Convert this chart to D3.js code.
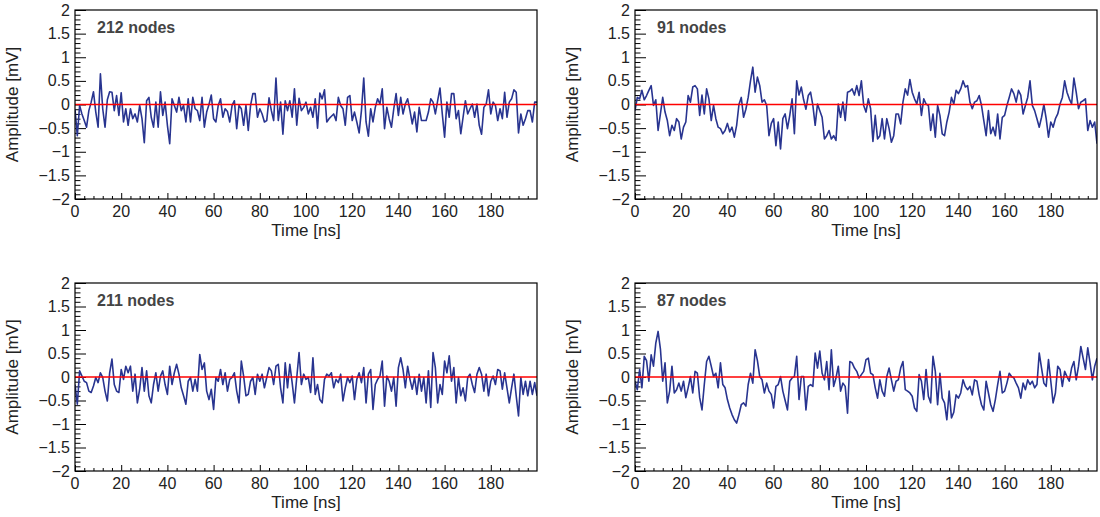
<!DOCTYPE html>
<html>
<head>
<meta charset="utf-8">
<script src="https://cdn.jsdelivr.net/npm/d3@7"></script>
<style>
  body { margin: 0; background: #fff; }
  svg { display: block; font-family: "Liberation Sans", Arial, sans-serif; }
</style>
</head>
<body>
<div class="canvas"></div>
<script>
// sample grid, 1 ns steps
const times = d3.range(0, 201)

const amp212 = [
  -0.1, -0.66, -0.02, -0.2, -0.34, -0.48, -0.13, 0.05, 0.27, -0.16,
  -0.48, 0.65, -0.09, -0.48, 0.1, 0.27, 0.26, -0.13, 0.19, -0.23,
  0.25, -0.37, -0.09, -0.44, -0.09, -0.30, -0.2, -0.37, -0.02, -0.30,
  -0.81, 0.08, 0.15, -0.27, -0.48, 0.05, -0.48, 0.27, -0.23, 0.05,
  -0.44, -0.83, 0.12, -0.02, -0.16, 0.15, -0.13, -0.02, -0.37, 0.12,
  -0.37, 0.15, -0.09, -0.13, -0.34, 0.15, -0.48, -0.16, 0.0, 0.20,
  -0.30, -0.37, -0.02, 0.12, -0.27, -0.09, -0.15,
  -0.37, -0.02, 0.08,
  -0.51, -0.02, -0.09, -0.44, -0.02, -0.55, -0.02, 0.23, 0.23, -0.27,
  -0.09, -0.2, -0.37, -0.34, 0.14, -0.13, -0.34, 0.56, -0.34, 0.05,
  -0.63, 0.08, -0.13, 0.08, -0.27, 0.33, -0.44, 0.13, -0.13, -0.06,
  0.05, -0.2, -0.06, -0.27, 0.12, -0.50, 0.24, 0.12, 0.31, -0.37,
  -0.30, -0.25, -0.2, -0.34, 0.15, -0.02, -0.09, -0.44, 0.15, 0.19,
  -0.34, -0.16, -0.37, -0.60, -0.13, 0.56, -0.37, -0.67, -0.09, -0.37,
  -0.06, 0.12, 0.01, 0.33, -0.51,
  -0.06, -0.3, -0.48, -0.09, 0.23, -0.23, 0.15, -0.2, 0.01, 0.12,
  -0.13, -0.41, -0.16, -0.58, -0.06, -0.34, -0.34, -0.34, -0.16, 0.12,
  0.05, -0.2, 0.08, 0.35, -0.2, -0.69, 0.05, -0.27, 0.23, 0.23,
  -0.3, -0.13, -0.62, -0.27, 0.08, -0.2, -0.09, 0.01, -0.27, 0.01,
  -0.44, -0.63, -0.06, 0.01, 0.31, -0.2, 0.05, -0.02, -0.34, -0.09,
  -0.3, 0.26, -0.27, 0.05, 0.12, 0.31, 0.26, -0.6, -0.2, -0.44,
  -0.3, -0.13, -0.13, -0.37, 0.05, 0.05
]

const amp91 = [
  -0.13, 0.15, 0.12, 0.3, 0.1, 0.19, 0.3, 0.4, -0.02, 0.1,
  -0.55, -0.2, 0.15, -0.16, -0.34, -0.66, -0.44, -0.55, -0.3, -0.37,
  -0.73, -0.48, -0.37, 0.19, 0.05, 0.37, 0.4, 0.33, -0.23, 0.2,
  -0.2, 0.33, 0.12, -0.34, -0.02, -0.3, -0.48, -0.51, -0.62, -0.55,
  -0.4, -0.58, -0.48, -0.69, -0.44, 0.0, 0.15, -0.27, -0.1, 0.15,
  0.5, 0.79, 0.26, 0.58, 0.4, 0.05, 0.1, -0.02, -0.66, -0.4,
  -0.3, -0.87, -0.37, -0.94, -0.3, -0.2, -0.51, -0.23,
  0.12, -0.62, 0.5, 0.2, 0.37, 0.1, -0.1, 0.19, 0.26, -0.02,
  -0.44, 0.01, -0.13, -0.27, -0.73, -0.66, -0.55, -0.73, -0.66, -0.76,
  0.01, -0.27, 0.05, -0.34, 0.26, 0.28, 0.33, 0.2, 0.4, 0.19,
  0.5, -0.02, -0.16, 0.12, -0.09, -0.78, -0.23, -0.73, -0.66, -0.3,
  -0.73, -0.3, -0.51, -0.8, -0.66, -0.2, -0.2, -0.41, 0.05, 0.33,
  0.2, 0.53, 0.26, 0.12, 0.01, 0.26, -0.23, 0.12, 0.01, -0.02,
  -0.55, -0.2, -0.69, -0.02, -0.23, -0.62, -0.66,
  -0.37, -0.16, 0.15, 0.01, 0.3, 0.23, 0.33, 0.5, 0.37, 0.4,
  0.05, -0.09, 0.05, 0.08, 0.19, -0.02, -0.34, -0.66, -0.13, -0.62,
  -0.48, -0.66, -0.2, -0.73, -0.27, -0.23, -0.02, 0.15, 0.33, 0.23,
  0.05, 0.3, 0.2, -0.2, -0.02, 0.15, 0.5, -0.02, -0.13, -0.3,
  -0.48, -0.27, 0.0, -0.3, -0.69, -0.37, -0.48, -0.3, -0.2, 0.01,
  0.15, 0.5, 0.26, 0.12, 0.01, 0.56, 0.26, -0.09, 0.05, 0.08,
  0.12, -0.55, -0.34, -0.48, -0.37, -0.83
]

const amp211 = [
  -0.16, -0.58, 0.13, 0.02, -0.09, -0.12, -0.3, -0.33, -0.19, -0.01,
  -0.12, 0.09, -0.01, -0.3, -0.51, 0.09, 0.38, -0.16, -0.3, -0.33,
  0.16, -0.05, 0.23, 0.09, 0.23, -0.3, 0.06, -0.55, -0.26, 0.2,
  -0.3, 0.13, -0.4, -0.55, -0.16, 0.09, -0.3, 0.02, 0.13, -0.16,
  -0.37, 0.23, -0.16, 0.09, 0.27, 0.06, -0.23, -0.4, -0.58, -0.09,
  -0.01, -0.3, -0.05, -0.3, 0.48, 0.16, 0.3, -0.3, -0.48, -0.26,
  -0.69, -0.01, -0.09, 0.16, -0.16, 0.09, -0.3, -0.05,
  -0.01, 0.09, -0.3, -0.55, 0.34, 0.02, -0.4, -0.37, -0.09, -0.01,
  -0.37, 0.06, -0.09, 0.06, -0.23, -0.01, 0.2, 0.13, -0.16, 0.23,
  0.27, -0.23, -0.55, 0.3, -0.23, 0.27, -0.12, -0.55, -0.01, 0.52,
  -0.16, 0.06, -0.05, -0.01, -0.33, 0.41, -0.37, -0.16, -0.48, -0.55,
  -0.05, 0.06, 0.02, 0.09, -0.23, -0.05, -0.12, 0.06, -0.51, -0.23,
  -0.01, -0.12, 0.02, -0.48, -0.05, 0.09, -0.12, 0.2, -0.55, 0.06,
  0.16, -0.69, -0.16, -0.05, 0.02, 0.34, -0.62,
  0.02, -0.09, -0.3, -0.01, -0.62, 0.2, 0.41, 0.16, -0.23, 0.23,
  -0.05, -0.26, -0.01, -0.37, 0.06, -0.3, -0.01, -0.55, 0.13, -0.65,
  0.52, 0.2, -0.55, -0.16, -0.37, 0.34, 0.09, 0.45, -0.09, 0.2,
  -0.55, -0.01, -0.4, -0.23, -0.51, -0.01, 0.06, -0.16, -0.33, 0.06,
  0.2, 0.06, -0.3, 0.06, -0.4, -0.09, 0.02, -0.16, 0.16, 0.13,
  -0.26, 0.09, -0.23, -0.55, -0.23, 0.06, -0.4, -0.83, -0.01, -0.37,
  -0.09, -0.4, -0.09, -0.37, -0.12, -0.4
]

const amp87 = [
  -0.09, -0.27, 0.16, -0.23, 0.44, 0.35, -0.09, 0.47, 0.23, 0.72,
  0.97, 0.6, -0.09, 0.3, -0.55, -0.3, 0.23, -0.34, -0.27, -0.13,
  -0.3, -0.09, -0.44, -0.23, 0.01, -0.34, 0.12, 0.08, -0.44, -0.7,
  -0.16, 0.33, 0.44, 0.23, 0.01, 0.08, -0.23, 0.3, -0.16, -0.23,
  -0.48, -0.66, -0.8, -0.91, -0.98, -0.8, -0.59, -0.55, -0.62, -0.16,
  0.08, -0.13, 0.58, 0.35, 0.01, -0.06, -0.34, -0.13, -0.3, -0.37,
  -0.66, -0.2, -0.16, 0.01, -0.3, -0.5, -0.7, -0.09,
  -0.02, 0.01, 0.44, -0.48, 0.01, 0.01, -0.7, -0.2, -0.16, -0.2,
  0.51, 0.19, 0.55, 0.08, -0.06, 0.33, -0.27, 0.58, -0.2, -0.02,
  0.23, -0.3, -0.13, -0.2, -0.77, 0.33, 0.3, 0.19, 0.12, -0.02,
  0.05, 0.12, 0.37, 0.4, 0.08, 0.05, -0.23, -0.45, -0.06, -0.3,
  -0.41, 0.01, 0.19, -0.06, -0.3, -0.09, -0.06, 0.19, 0.33, -0.27,
  -0.3, -0.34, -0.41, -0.66, -0.73, 0.05, -0.09, -0.48, 0.16, -0.41,
  -0.55, 0.44, 0.12, -0.59, 0.08, -0.45, -0.55,
  -0.91, -0.3, -0.87, -0.75, -0.38, -0.45, -0.34, -0.06, -0.2, -0.27,
  -0.2, -0.38, -0.06, -0.09, -0.38, -0.59, -0.7, -0.09, -0.34, -0.59,
  -0.73, -0.48, -0.16, 0.12, -0.34, -0.3, -0.13, 0.08, 0.01, -0.02,
  -0.13, -0.23, -0.45, -0.13, -0.27, -0.06, -0.16, -0.09, -0.23, -0.16,
  0.51, 0.19, -0.13, -0.2, 0.37, -0.09, -0.55, -0.34, 0.23, 0.16,
  -0.2, 0.12, 0.01, -0.09, 0.19, 0.33, -0.06, 0.23, 0.65, 0.4,
  0.16, 0.62, 0.3, -0.06, 0.23, 0.4
]

const labels = ['212 nodes', '91 nodes', '211 nodes', '87 nodes']
const series = [amp212, amp91, amp211, amp87]
const xTicks = [0, 20, 40, 60, 80, 100, 120, 140, 160, 180]
const yTicks = [-2, -1.5, -1, -0.5, 0, 0.5, 1, 1.5, 2]

const svg = d3.select('.canvas')
    .append('svg')
    .attr('width', 1100)
    .attr('height', 517)

// frame boxes of the 4 pads
const frames = [
    { left: 75, right: 537, top: 10, bottom: 199 },
    { left: 635, right: 1097, top: 10, bottom: 199 },
    { left: 75, right: 537, top: 283, bottom: 471 },
    { left: 635, right: 1097, top: 283, bottom: 471 }
]

const fmt = d => (d < 0 ? '\u2212' : '') + Math.abs(d)

frames.forEach((f, i) => {
    const x = d3.scaleLinear().domain([0, 200]).range([f.left, f.right])
    const y = d3.scaleLinear().domain([-2, 2]).range([f.bottom, f.top])
    const w = f.right - f.left
    const h = f.bottom - f.top

    const pad = svg.append('g')

    pad.append('clipPath')
        .attr('id', 'clip' + i)
        .append('rect')
        .attr('x', f.left)
        .attr('y', f.top)
        .attr('width', w)
        .attr('height', h)

    // y axis: ticks point into the frame
    const yAxis = d3.axisRight(y)
        .tickValues(yTicks)
        .tickSize(11)
        .tickFormat('')
    pad.append('g')
        .attr('transform', `translate(${f.left},0)`)
        .call(yAxis)
        .call(g => g.select('.domain').remove())
    const yMinor = d3.axisRight(y)
        .tickValues(d3.range(-20, 21).filter(k => k % 5 != 0).map(k => k / 10))
        .tickSize(5.5)
        .tickFormat('')
    pad.append('g')
        .attr('transform', `translate(${f.left},0)`)
        .call(yMinor)
        .call(g => g.select('.domain').remove())

    pad.selectAll('.ylab')
        .data(yTicks)
        .enter()
        .append('text')
        .attr('x', f.left - 5)
        .attr('y', d => y(d))
        .attr('dy', '0.35em')
        .attr('text-anchor', 'end')
        .attr('font-size', 16)
        .attr('fill', '#222')
        .text(fmt)

    // x axis
    const xAxis = d3.axisTop(x)
        .tickValues(xTicks)
        .tickSize(6)
        .tickFormat('')
    pad.append('g')
        .attr('transform', `translate(0,${f.bottom})`)
        .call(xAxis)
        .call(g => g.select('.domain').remove())
    const xMinor = d3.axisTop(x)
        .tickValues(d3.range(0, 200, 4).filter(k => k % 20 != 0))
        .tickSize(3)
        .tickFormat('')
    pad.append('g')
        .attr('transform', `translate(0,${f.bottom})`)
        .call(xMinor)
        .call(g => g.select('.domain').remove())

    pad.selectAll('.xlab')
        .data(xTicks)
        .enter()
        .append('text')
        .attr('x', d => x(d))
        .attr('y', f.bottom + 18)
        .attr('text-anchor', 'middle')
        .attr('font-size', 16)
        .attr('fill', '#222')
        .text(d => d)

    pad.selectAll('.tick line').attr('stroke', '#000')

    // titles
    pad.append('text')
        .attr('x', (f.left + f.right) / 2)
        .attr('y', f.bottom + 37)
        .attr('text-anchor', 'middle')
        .attr('font-size', 17)
        .attr('fill', '#222')
        .text('Time [ns]')
    pad.append('text')
        .attr('transform', `translate(${f.left - 57},${y(0)}) rotate(-90)`)
        .attr('text-anchor', 'middle')
        .attr('font-size', 17)
        .attr('fill', '#222')
        .text('Amplitude [mV]')

    // waveform
    const line = d3.line()
        .x((d, j) => x(times[j]))
        .y(d => y(d))
    pad.append('path')
        .datum(series[i])
        .attr('clip-path', `url(#clip${i})`)
        .attr('d', line)
        .attr('fill', 'none')
        .attr('stroke', '#283490')
        .attr('stroke-width', 1.6)
        .attr('stroke-linejoin', 'round')

    // zero baseline
    pad.append('line')
        .attr('x1', x(0))
        .attr('x2', x(200))
        .attr('y1', y(0))
        .attr('y2', y(0))
        .attr('stroke', '#ff0000')
        .attr('stroke-width', 1.4)

    // frame
    pad.append('rect')
        .attr('x', f.left)
        .attr('y', f.top)
        .attr('width', w)
        .attr('height', h)
        .attr('fill', 'none')
        .attr('stroke', '#000')
        .attr('stroke-width', 1.2)

    pad.append('text')
        .attr('x', f.left + 22)
        .attr('y', f.top + 23)
        .attr('font-size', 16)
        .attr('font-weight', 'bold')
        .attr('fill', '#444')
        .text(labels[i])
})
</script>
</body>
</html>
